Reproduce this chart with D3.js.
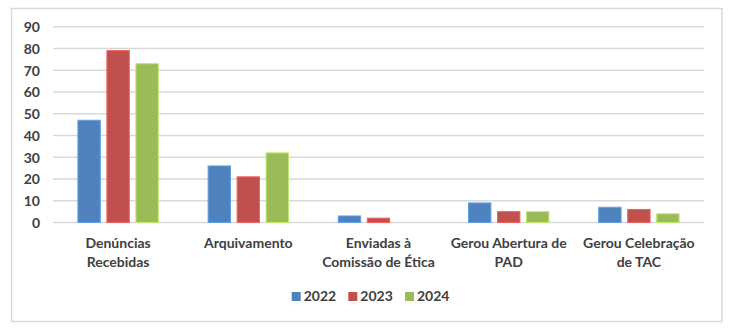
<!DOCTYPE html>
<html><head><meta charset="utf-8">
<script src="https://cdn.jsdelivr.net/npm/d3@7"></script>
<style>html,body{margin:0;padding:0;background:#fff;}svg{display:block;}</style>
</head><body>
<svg id="c" width="732" height="331"></svg>
<script>
(function(){
const categories = [["Denúncias","Recebidas"],["Arquivamento"],["Enviadas à","Comissão de Ética"],["Gerou Abertura de","PAD"],["Gerou Celebração","de TAC"]];
const years = ["2022","2023","2024"];
const values2022 = [47, 26, 3, 9, 7];
const values2023 = [79, 21, 2, 5, 6];
const values2024 = [73, 32, 0, 5, 4];
const yTicks = [0,10,20,30,40,50,60,70,80,90];
const colors = ["#4F81BD","#C0504D","#9BBB59"];
const series = [values2022, values2023, values2024];

const font = "Lato, sans-serif";
const svg = d3.select("#c");
svg.append("rect").attr("x",11.5).attr("y",8.5).attr("width",710.5).attr("height",313).attr("fill","#fff").attr("stroke","#d9d9d9").attr("stroke-width",1.5);

const pLeft=53, pRight=704, pTop=26.7, pBottom=222.5;
const y = d3.scaleLinear().domain([0,90]).range([pBottom, pTop]);
const x0 = d3.scaleBand().domain(d3.range(categories.length)).range([pLeft,pRight]).paddingInner(0).paddingOuter(0);
const x1 = d3.scaleBand().domain(d3.range(years.length)).range([0,x0.bandwidth()]).paddingInner(0.2276).paddingOuter(0.8586);

svg.append("g").selectAll("line").data(yTicks).join("line")
  .attr("x1",pLeft).attr("x2",pRight).attr("y1",d=>y(d)).attr("y2",d=>y(d))
  .attr("stroke","#d9d9d9").attr("stroke-width",1.5);

const yAxis = d3.axisLeft(y).tickValues(yTicks).tickSize(0).tickPadding(0);
const ya = svg.append("g").attr("transform","translate(40,0)").call(yAxis);
ya.select(".domain").remove();
ya.selectAll("text").attr("font-family",font).attr("font-weight","bold").attr("font-size","14px").attr("fill","#404040").attr("dy","0.35em");

const groups = svg.append("g").selectAll("g").data(categories).join("g")
  .attr("transform",(d,i)=>`translate(${x0(i)},0)`);
groups.selectAll("rect").data((d,i)=>series.map((s,k)=>({k, v:s[i]}))).join("rect")
  .attr("x",d=>x1(d.k)).attr("width",x1.bandwidth())
  .attr("y",d=>y(d.v)).attr("height",d=>pBottom-y(d.v))
  .attr("fill",d=>colors[d.k])
  .attr("stroke",d=>d3.color(colors[d.k]).brighter(0.6)).attr("stroke-width",d=>d.v>0?1:0);

const labels = svg.append("g").selectAll("text").data(categories).join("text")
  .attr("x",(d,i)=>x0(i)+x0.bandwidth()/2).attr("y",248)
  .attr("text-anchor","middle").attr("font-family",font).attr("font-weight","bold")
  .attr("font-size","14px").attr("fill","#404040");
labels.selectAll("tspan").data(d=>d).join("tspan")
  .attr("x",function(){return this.parentNode.getAttribute("x");})
  .attr("dy",(d,i)=>i===0?0:18.5).text(d=>d);

const legX = [291.7, 348.3, 405];
const leg = svg.append("g").selectAll("g").data(years).join("g")
  .attr("transform",(d,i)=>`translate(${legX[i]},292)`);
leg.append("rect").attr("width",9).attr("height",9).attr("fill",(d,i)=>colors[i]);
leg.append("text").attr("x",12).attr("y",4.5).attr("dy","0.35em").attr("font-family",font).attr("font-weight","bold")
  .attr("font-size","14px").attr("fill","#404040").text(d=>d);
})();
</script>
</body></html>
